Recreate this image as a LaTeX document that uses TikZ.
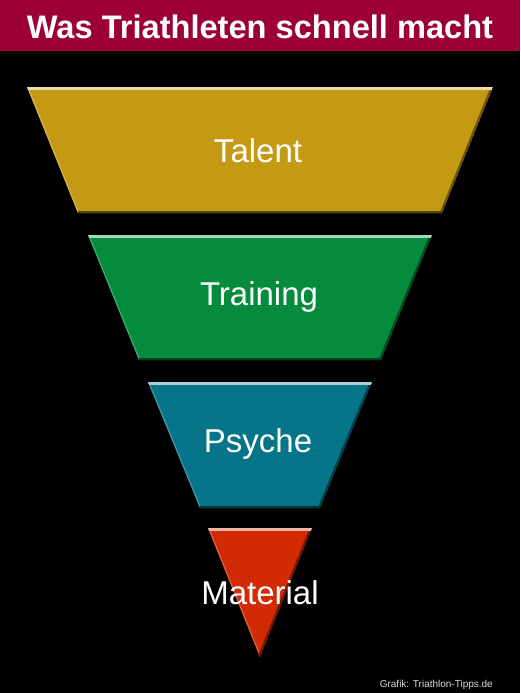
\documentclass[tikz,border=0pt]{standalone}
\usepackage{fontspec}
\setmainfont{Liberation Sans}
\definecolor{titlered}{HTML}{9C0035}
\definecolor{talentc}{HTML}{C49A14}
\definecolor{trainc}{HTML}{048B3B}
\definecolor{psychec}{HTML}{06758A}
\definecolor{materialc}{HTML}{D22B04}
\tikzset{
  seglabel/.style={anchor=base, text=white, inner sep=0pt, font=\fontsize{33}{33}\selectfont},
  titlelabel/.style={anchor=base, text=white, inner sep=0pt, font=\fontsize{32.6}{33}\selectfont\bfseries},
  footlabel/.style={anchor=base east, text=white!85!black, inner sep=0pt, font=\fontsize{10}{10}\selectfont}
}
\newcommand\funnelseg[6]{%
  \coordinate (#1tl) at (260-#4,#2);
  \coordinate (#1tr) at (260+#4,#2);
  \coordinate (#1br) at (260+#5,#3);
  \coordinate (#1bl) at (260-#5,#3);
  \begin{scope}
    \clip (#1tl) -- (#1tr) -- (#1br) -- (#1bl) -- cycle;
    \fill[#6] (#1tl) -- (#1tr) -- (#1br) -- (#1bl) -- cycle;
    \draw[#6!75!white, line width=2.4] (#1tl) -- (#1bl);
    \draw[#6!55!black, line width=4.5] (#1tr) -- (#1br);
    \draw[#6!45!black, line width=5] (#1bl) -- (#1br);
    \draw[#6!35!white, line width=5] (#1tl) -- (#1tr);
  \end{scope}
}
\begin{document}
\begin{tikzpicture}[x=1pt,y=-1pt]
  \useasboundingbox (0,0) rectangle (520,693);
  \fill[black] (0,0) rectangle (520,693);
  \fill[titlered] (0,0) rectangle (520,51);
  \node[titlelabel] (title) at (260,38) {Was Triathleten schnell macht};

  \funnelseg{talent}{87}{213}{233}{182}{talentc}
  \funnelseg{training}{235}{360}{172}{121}{trainc}
  \funnelseg{psyche}{382}{508}{112}{60}{psychec}
  \funnelseg{material}{528}{657}{52}{0}{materialc}

  \node[seglabel] (talentlabel) at (258,162) {Talent};
  \node[seglabel] (traininglabel) at (259,305) {Training};
  \node[seglabel] (psychelabel) at (258,452) {Psyche};
  \node[seglabel] (materiallabel) at (260,604) {Material};

  \node[footlabel] (credit) at (493,687) {Grafik: Triathlon-Tipps.de};
\end{tikzpicture}
\end{document}
